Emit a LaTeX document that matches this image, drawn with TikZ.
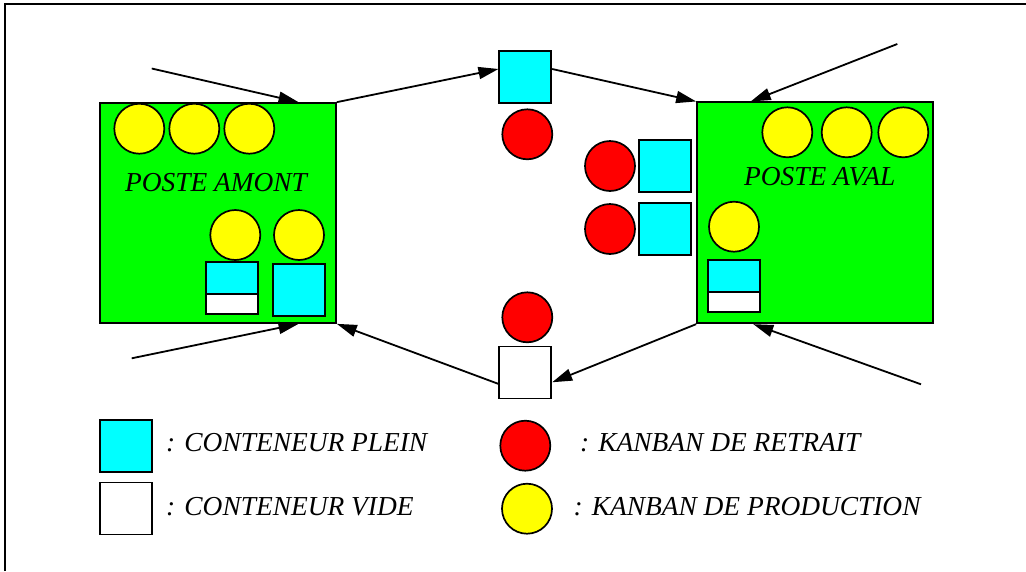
\documentclass[tikz,border=0pt]{standalone}
\usepackage{fontspec}
\setmainfont{Liberation Serif}
\usetikzlibrary{arrows.meta}
\definecolor{vert}{RGB}{0,255,0}
\definecolor{cyanvif}{RGB}{0,255,255}
\definecolor{rouge}{RGB}{255,0,0}
\definecolor{jaune}{RGB}{255,255,0}
\begin{document}
\begin{tikzpicture}[x=1pt,y=-1pt,
  poste/.style={draw,line width=1.7pt,fill=vert,minimum width=236pt,minimum height=220pt,inner sep=0pt},
  plein/.style={draw,line width=1.7pt,fill=cyanvif,minimum width=52pt,minimum height=52pt,inner sep=0pt},
  vide/.style={draw,line width=1.7pt,fill=white,minimum width=52pt,minimum height=52pt,inner sep=0pt},
  demiplein/.style={draw,line width=1.7pt,fill=cyanvif,minimum width=52pt,minimum height=32pt,inner sep=0pt},
  demivide/.style={draw,line width=1.7pt,fill=white,minimum width=52pt,minimum height=20pt,inner sep=0pt},
  retrait/.style={circle,draw,line width=1.7pt,fill=rouge,minimum size=50pt,inner sep=0pt},
  production/.style={circle,draw,line width=1.7pt,fill=jaune,minimum size=50pt,inner sep=0pt},
  label/.style={font=\fontsize{27.4}{30}\selectfont\itshape,inner sep=0pt},
  flux/.style={line width=1.8pt,-{Triangle[length=20pt,width=12pt]}}]
\useasboundingbox (0,0) rectangle (1026,571);
% cadre
\draw[line width=1.7pt] (5,571) -- (5,4) -- (1026,4);

% poste amont
\node[poste] (amont) at (218,213) {};
\node[production] (pa1) at (139.3,128.7) {};
\node[production] (pa2) at (194.3,128.7) {};
\node[production] (pa3) at (249.3,128.7) {};
\node[label,anchor=base] (tamont) at (216,191.7) {POSTE AMONT};
\node[production] (pa4) at (235.3,235) {};
\node[production] (pa5) at (299,235) {};
\node[demiplein] (ha1) at (232,278.2) {};
\node[demivide] (ha2) at (232,304) {};
\node[plein] (fa) at (299,290.2) {};

% poste aval
\node[poste,minimum height=221pt] (aval) at (815,212.8) {};
\node[production] (pv1) at (787.3,132.3) {};
\node[production] (pv2) at (846.7,132.3) {};
\node[production] (pv3) at (903.3,132.3) {};
\node[label,anchor=base] (taval) at (819.7,185.7) {POSTE AVAL};
\node[production] (pv4) at (734,226.7) {};
\node[demiplein] (hv1) at (734.3,276) {};
\node[demivide] (hv2) at (734.3,301.8) {};

% conteneurs en circulation
\node[plein] (tsq) at (525.3,77.2) {};
\node[retrait] (r1) at (527.3,134.3) {};
\node[retrait] (r2) at (610,166) {};
\node[plein] (c2) at (665.2,165.8) {};
\node[retrait] (r3) at (610,229) {};
\node[plein] (c3) at (665.2,229) {};
\node[retrait] (r4) at (527.3,317.3) {};
\node[vide] (wsq) at (525.3,372.5) {};

% flux
\coordinate (s1) at (151.7,68.5);
\coordinate (s4) at (897.3,44);
\coordinate (s5) at (921,384.3);
\coordinate (s8) at (131.7,358.3);
\draw[flux] (s1) -- (amont.54);
\draw[flux] (amont.north east) -- (tsq.163);
\draw[flux] (tsq.17) -- (aval.north west);
\draw[flux] (s4) -- (aval.120);
\draw[flux] (s5) -- (aval.-119);
\draw[flux] (aval.south west) -- (wsq.-20);
\draw[flux] (wsq.203) -- (amont.south east);
\draw[flux] (s8) -- (amont.-54);

% legende
\node[plein] (lplein) at (125.7,445.7) {};
\node[vide] (lvide) at (125.7,508.5) {};
\node[retrait] (lret) at (525.3,445.7) {};
\node[production] (lprod) at (527,508.7) {};
\node[label,anchor=base west] (tplein) at (166,451.7) {: CONTENEUR PLEIN};
\node[label,anchor=base west] (tvide) at (166,515) {: CONTENEUR VIDE};
\node[label,anchor=base west] (tret) at (580,451.7) {: KANBAN DE RETRAIT};
\node[label,anchor=base west] (tprod) at (573.3,515) {: KANBAN DE PRODUCTION};
\end{tikzpicture}
\end{document}
